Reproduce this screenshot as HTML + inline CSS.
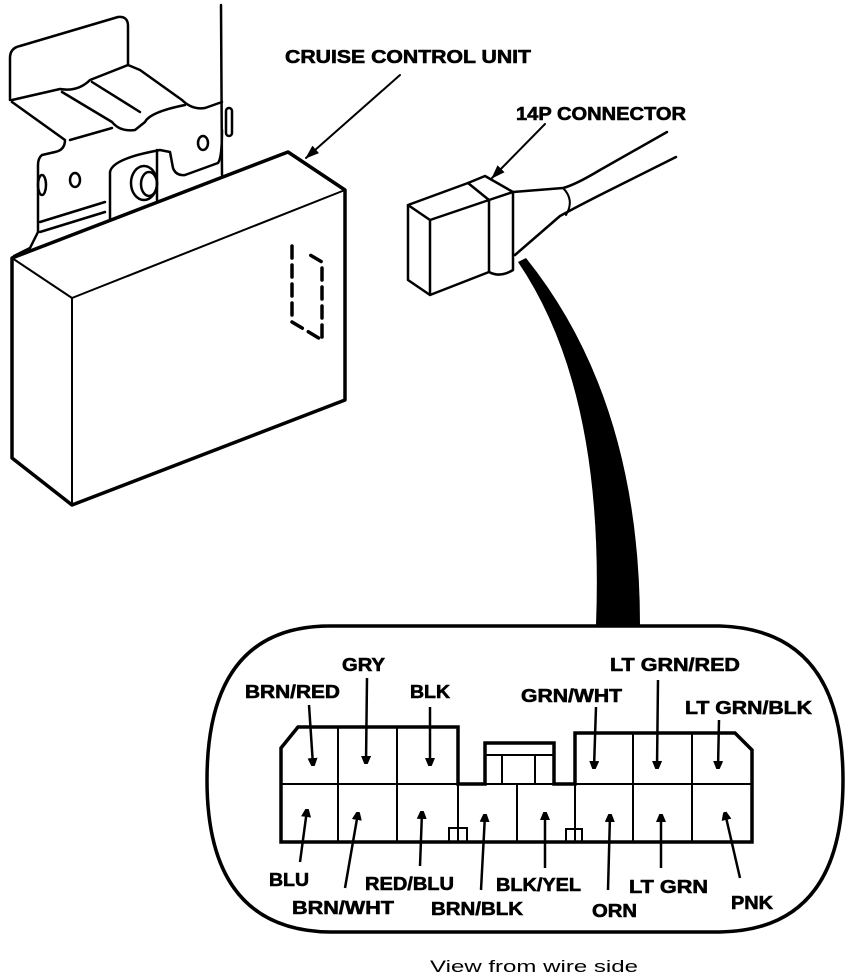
<!DOCTYPE html>
<html><head><meta charset="utf-8"><style>
html,body{margin:0;padding:0;background:#fff;}
svg{display:block}
text{font-family:"Liberation Sans",sans-serif;font-weight:bold;fill:#000;}
</style></head><body>
<svg width="864" height="978" viewBox="0 0 864 978" xmlns="http://www.w3.org/2000/svg">
<defs><marker id="a" markerWidth="8" markerHeight="10" refX="7" refY="5" orient="auto" markerUnits="userSpaceOnUse"><path d="M0,0 L12,5 L0,10 Z" fill="#000"/></marker>
<marker id="b" markerWidth="14" markerHeight="10" refX="13" refY="5" orient="auto" markerUnits="userSpaceOnUse"><path d="M0,0 L14,5 L0,10 Z" fill="#000"/></marker></defs>
<g fill="none" stroke="#000" stroke-width="2.5" stroke-linejoin="round" stroke-linecap="round">
<path d="M221,5 L222,175"/>
<path d="M10,100 L10,58 Q10,48 20,46 L118,17 Q128,16 128,26 L128,65"/>
<path d="M12,100 L60,89 Q78,92 90,80 L128,65 L140,70 L182,100 Q192,110 205,108 L222,102"/>
<path d="M12,102 L65,140 Q65,150 55,152 L42,155 Q38,158 38,165 L38,232 L30,248 L14,256"/>
<path d="M62,92 L112,122 Q120,132 135,130 L145,122 Q150,112 185,105"/>
<path d="M92,82 L140,112"/>
<path d="M70,140 L112,128"/>
<path d="M110,220 L110,172 Q112,160 150,152 L160,150 L170,152 L173,168 Q176,176 185,175 L218,163 Q222,158 222,130"/>
<path d="M157,150 L157,200"/>
<ellipse cx="75" cy="180" rx="5" ry="7"/>
<ellipse cx="203" cy="143" rx="5" ry="7"/>
<ellipse cx="144" cy="183" rx="13" ry="17"/>
<ellipse cx="149" cy="184" rx="8" ry="12"/>
<ellipse cx="42" cy="185" rx="4" ry="10"/>
<rect x="226" y="108" width="6" height="28" rx="3"/>
<path d="M40,222 L105,202 M40,232 L105,212"/>
<path d="M12,258 L288,152 L345,190 L345,400 L72,505 L12,458 Z" stroke-width="3.5"/>
<path d="M12,258 L72,298 L345,190 M72,298 L72,505" stroke-width="2"/>
<path d="M292,246 L292,322 L322,340 L322,262 L305,252" stroke-width="3.5" stroke-dasharray="12,7"/>
<path d="M400,75 L306,158" stroke-width="2" marker-end="url(#b)"/>
<path d="M545,124 L492,178" stroke-width="2" marker-end="url(#b)"/>
<path d="M408,205 L468,183 L489,200 L430,220 Z M430,220 L430,295 L408,280 L408,205 M430,295 L489,272 L489,200"/>
<path d="M468,183 L485,176 L513,192 L489,200 M489,272 Q500,278 513,270 L513,192"/>
<path d="M513,192 L563,188 Q575,185 600,170 L667,132"/>
<path d="M515,255 L560,216 Q580,205 610,190 L676,157"/>
<path d="M563,188 Q575,200 566,215" stroke-width="2"/>
</g>
<path d="M518,262 Q605,390 596,625 L640,625 Q640,400 526,258 Z" fill="#000"/>
<g stroke="#000" stroke-width="0.6">
<text x="285" y="63" font-size="18" textLength="246" lengthAdjust="spacingAndGlyphs">CRUISE CONTROL UNIT</text>
<text x="516" y="120" font-size="18" textLength="170" lengthAdjust="spacingAndGlyphs">14P CONNECTOR</text>
</g>
<path d="M330,626 L720,626 Q843,630 843,780 Q843,930 720,932 L330,932 Q207,930 207,780 Q207,626 330,626 Z" fill="#fff" stroke="#000" stroke-width="3.5"/>
<g fill="none" stroke="#000" stroke-width="3.5" stroke-linejoin="miter">
<path d="M281,842 L281,748 L298,727 L458,727 L458,784 L485,784 L485,743 L554,743 L554,784 L575,784 L575,733 L735,733 L752,750 L752,842 Z"/>
</g>
<g fill="none" stroke="#000" stroke-width="2">
<path d="M281,784 L752,784"/>
<path d="M338,727 V842 M397,727 V842 M458,784 V842 M517,784 V842 M575,784 V842 M633,733 V842 M692,733 V842"/>
<path d="M485,755 H554 M502,755 V784 M535,755 V784"/>
<rect x="449" y="828" width="18" height="14"/>
<rect x="566" y="829" width="16" height="13"/>
</g>
<g stroke="#000" stroke-width="2.5" fill="none">
<path d="M309,705 L313,765" marker-end="url(#a)"/>
<path d="M367,678 L366,763" marker-end="url(#a)"/>
<path d="M430,707 L430,765" marker-end="url(#a)"/>
<path d="M596,707 L594,768" marker-end="url(#a)"/>
<path d="M658,680 L657,768" marker-end="url(#a)"/>
<path d="M719,720 L718,768" marker-end="url(#a)"/>
<path d="M300,862 L307,810" marker-end="url(#a)"/>
<path d="M345,888 L358,813" marker-end="url(#a)"/>
<path d="M420,866 L422,812" marker-end="url(#a)"/>
<path d="M481,890 L485,815" marker-end="url(#a)"/>
<path d="M545,868 L545,813" marker-end="url(#a)"/>
<path d="M608,890 L610,815" marker-end="url(#a)"/>
<path d="M661,868 L661,815" marker-end="url(#a)"/>
<path d="M740,878 L725,813" marker-end="url(#a)"/>
</g>
<g font-size="18" stroke="#000" stroke-width="0.6">
<text x="342" y="671" textLength="43" lengthAdjust="spacingAndGlyphs">GRY</text>
<text x="245" y="698" textLength="95" lengthAdjust="spacingAndGlyphs">BRN/RED</text>
<text x="410" y="698" textLength="40" lengthAdjust="spacingAndGlyphs">BLK</text>
<text x="521" y="702" textLength="101" lengthAdjust="spacingAndGlyphs">GRN/WHT</text>
<text x="610" y="671" textLength="130" lengthAdjust="spacingAndGlyphs">LT GRN/RED</text>
<text x="685" y="714" textLength="127" lengthAdjust="spacingAndGlyphs">LT GRN/BLK</text>
<text x="269" y="886" textLength="40" lengthAdjust="spacingAndGlyphs">BLU</text>
<text x="292" y="914" textLength="102" lengthAdjust="spacingAndGlyphs">BRN/WHT</text>
<text x="365" y="890" textLength="89" lengthAdjust="spacingAndGlyphs">RED/BLU</text>
<text x="431" y="915" textLength="92" lengthAdjust="spacingAndGlyphs">BRN/BLK</text>
<text x="496" y="891" textLength="85" lengthAdjust="spacingAndGlyphs">BLK/YEL</text>
<text x="592" y="917" textLength="45" lengthAdjust="spacingAndGlyphs">ORN</text>
<text x="629" y="893" textLength="79" lengthAdjust="spacingAndGlyphs">LT GRN</text>
<text x="731" y="909" textLength="42" lengthAdjust="spacingAndGlyphs">PNK</text>
</g>
<text x="430" y="972" font-size="17" style="font-weight:normal" textLength="208" lengthAdjust="spacingAndGlyphs">View from wire side</text>
</svg>
</body></html>
